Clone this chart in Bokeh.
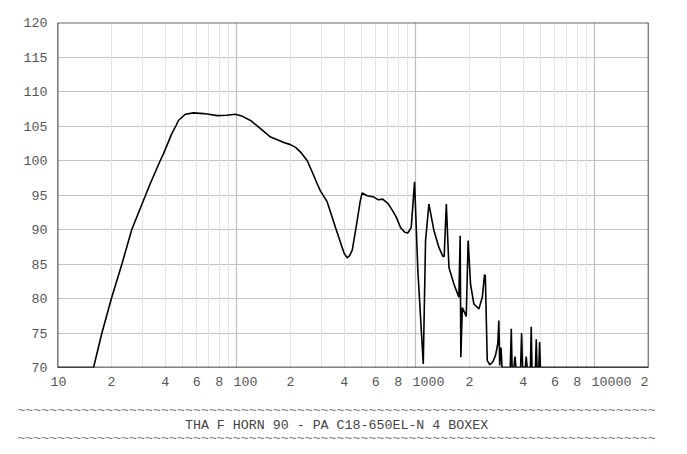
from bokeh.plotting import figure
from bokeh.layouts import column
from bokeh.models import Range1d, FixedTicker, Grid, Span
from bokeh.core.properties import value
from bokeh.embed import file_html
from bokeh.resources import INLINE

# ---- data (Hz, dB) ----
freq_hz = [10, 15.9, 17.7, 20.0, 22.9, 26.0, 30.2, 32.9, 37.5, 39.1, 43.5, 45.8, 47.4,
           51.7, 57.5, 65.4, 70.0, 78.0, 88.0, 98.6, 108, 119.7, 135, 155, 183.8, 200,
           213.8, 230, 248, 265, 282.5, 294, 321, 357, 372, 389, 400, 415, 428, 443, 472,
           490, 503, 537, 585, 620, 655, 700, 741, 780, 824, 870, 906, 946, 987, 1030,
           1104, 1137, 1187, 1265, 1350, 1421, 1445, 1485, 1536, 1637, 1745, 1775, 1790,
           1824, 1919, 1966, 2028, 2117, 2258, 2360, 2428, 2440, 2452, 2514, 2600, 2700,
           2799, 2880, 2918, 2950, 3000, 3040, 3380, 3425, 3460, 3540, 3590, 3640, 3860,
           3910, 3960, 4100, 4150, 4200, 4380, 4426, 4470, 4670, 4722, 4770, 4880, 4930,
           4980, 20000]
spl_db = [70, 70, 75, 80, 85, 90, 94.2, 96.6, 100, 101, 103.9, 105, 105.8,
          106.7, 106.9, 106.8, 106.7, 106.5, 106.55, 106.7, 106.4, 105.8, 104.7, 103.4, 102.6, 102.3,
          101.9, 101.1, 100, 98.3, 96.6, 95.6, 94.0, 90.3, 88.9, 87.4, 86.5, 85.9, 86.2, 87.0, 91.3,
          94.0, 95.3, 94.9, 94.7, 94.3, 94.4, 93.8, 92.8, 91.8, 90.3, 89.6, 89.5, 90.3, 96.9, 84.0,
          70.5, 88.4, 93.7, 89.9, 87.4, 86.1, 86.1, 93.7, 84.5, 82.1, 80.2, 89.1, 71.5,
          78.7, 77.4, 88.4, 82.1, 79.2, 78.5, 80.2, 83.5, 82.9, 83.4, 71.0, 70.4, 70.8,
          71.8, 73.5, 76.8, 70.3, 72.9, 70, 70, 75.6, 70, 70, 71.6, 70, 70,
          75.0, 70, 70, 71.6, 70, 70, 75.9, 70, 70, 74.1, 70, 70, 73.7,
          70, 70]
assert len(freq_hz) == len(spl_db)

y_ticks = [70, 75, 80, 85, 90, 95, 100, 105, 110, 115, 120]
x_tick_values = [10, 20, 40, 60, 80, 100, 200, 400, 600, 800,
                 1000, 2000, 4000, 6000, 8000, 10000, 20000]
x_tick_labels = ["10", "2", "4", "6", "8", "100", "2", "4", "6", "8",
                 "1000", "2", "4", "6", "8", "10000", "2"]
major_grid = [100, 1000, 10000]
minor_grid = [m * 10 ** d for d in range(1, 5) for m in range(2, 10)
              if m * 10 ** d < 20000 and m * 10 ** d not in major_grid]
title_text = "THA F HORN 90 - PA C18-650EL-N 4 BOXEX"
tilde_text = "~" * 80

FONT = "Liberation Mono"
FS = "13.3px"
W = 671
BL, BR = 57, 23          # left / right borders (px)
PX_PER_DEC = (W - BL - BR) / 3.30103   # horizontal scale of the frame

# ---------------- main plot ----------------
p = figure(width=W, height=375, x_axis_type="log", x_axis_location=None,
           x_range=Range1d(10, 20000), y_range=Range1d(70, 120),
           output_backend="svg", toolbar_location=None,
           min_border_left=BL, min_border_right=BR, min_border_top=22, min_border_bottom=8)
p.frame_align = False
p.outline_line_color = None
p.border_fill_color = "white"

p.ygrid.ticker = FixedTicker(ticks=y_ticks)
p.ygrid.grid_line_color = "#c4c4c4"
p.ygrid.grid_line_width = 1
p.add_layout(Grid(dimension=0, ticker=FixedTicker(ticks=minor_grid),
                  grid_line_color="#e4e4e4", grid_line_width=1))
p.add_layout(Grid(dimension=0, ticker=FixedTicker(ticks=major_grid),
                  grid_line_color="#bdbdbd", grid_line_width=1.2))

ya = p.yaxis[0]
ya.ticker = FixedTicker(ticks=y_ticks)
ya.axis_line_color = None
ya.major_tick_line_color = None
ya.minor_tick_line_color = None
ya.major_tick_out = 0
ya.major_tick_in = 0
ya.major_label_standoff = 10
ya.major_label_text_font = FONT
ya.major_label_text_font_size = FS
ya.major_label_text_color = "#555555"

p.line(freq_hz, spl_db, line_color="black", line_width=1.6)

p.add_layout(Span(location=120, dimension="width", line_color="#666666", line_width=2.2))
p.add_layout(Span(location=70, dimension="width", line_color="black", line_width=1.6))
p.add_layout(Span(location=10, dimension="height", line_color="black", line_width=1.6))
p.add_layout(Span(location=20000, dimension="height", line_color="black", line_width=1.4))

# ---------------- text strip below (same log x mapping, full width) ----------------
x0 = 10 / 10 ** (BL / PX_PER_DEC)
x1 = 20000 * 10 ** (BR / PX_PER_DEC)
q = figure(width=W, height=75, x_axis_type="log", x_axis_location=None, y_axis_location=None,
           x_range=Range1d(x0, x1), y_range=Range1d(0, 75),
           output_backend="svg", toolbar_location=None,
           min_border_left=0, min_border_right=0, min_border_top=0, min_border_bottom=0)
q.frame_align = False
q.outline_line_color = None
q.xgrid.visible = False
q.ygrid.visible = False
q.border_fill_color = "white"

TICK_Y = 69
dec = [(v, t) for v, t in zip(x_tick_values, x_tick_labels) if t in ("100", "1000", "10000")]
mid = [(v, t) for v, t in zip(x_tick_values, x_tick_labels)
       if t not in ("100", "1000", "10000") and v not in (10, 20000)]
ends = [(v, t) for v, t in zip(x_tick_values, x_tick_labels) if v in (10, 20000)]

common = dict(text_font=value(FONT), text_font_size=value(FS), text_baseline="middle",
              text_color="#555555")
q.text(x=[v for v, _ in dec], y=[TICK_Y] * len(dec), text=[t for _, t in dec],
       text_align="left", x_offset=-3, **common)
q.text(x=[v for v, _ in mid], y=[TICK_Y] * len(mid), text=[t for _, t in mid],
       text_align="center", **common)
q.text(x=[ends[0][0]], y=[TICK_Y], text=[ends[0][1]], text_align="center", x_offset=1, **common)
q.text(x=[ends[1][0]], y=[TICK_Y], text=[ends[1][1]], text_align="center", x_offset=-4, **common)

CX = 362
q.text(x=[CX], y=[40], text=[tilde_text], text_align="center", text_baseline="middle",
       text_font=value(FONT), text_font_size=value(FS), text_color="#777777")
q.text(x=[CX], y=[25], text=[title_text], text_align="center", text_baseline="middle",
       text_font=value(FONT), text_font_size=value(FS), text_color="#444444")
q.text(x=[CX], y=[12.5], text=[tilde_text], text_align="center", text_baseline="middle",
       text_font=value(FONT), text_font_size=value(FS), text_color="#777777")

layout = column(p, q, spacing=0)
open("out.html", "w").write(file_html(layout, INLINE))
